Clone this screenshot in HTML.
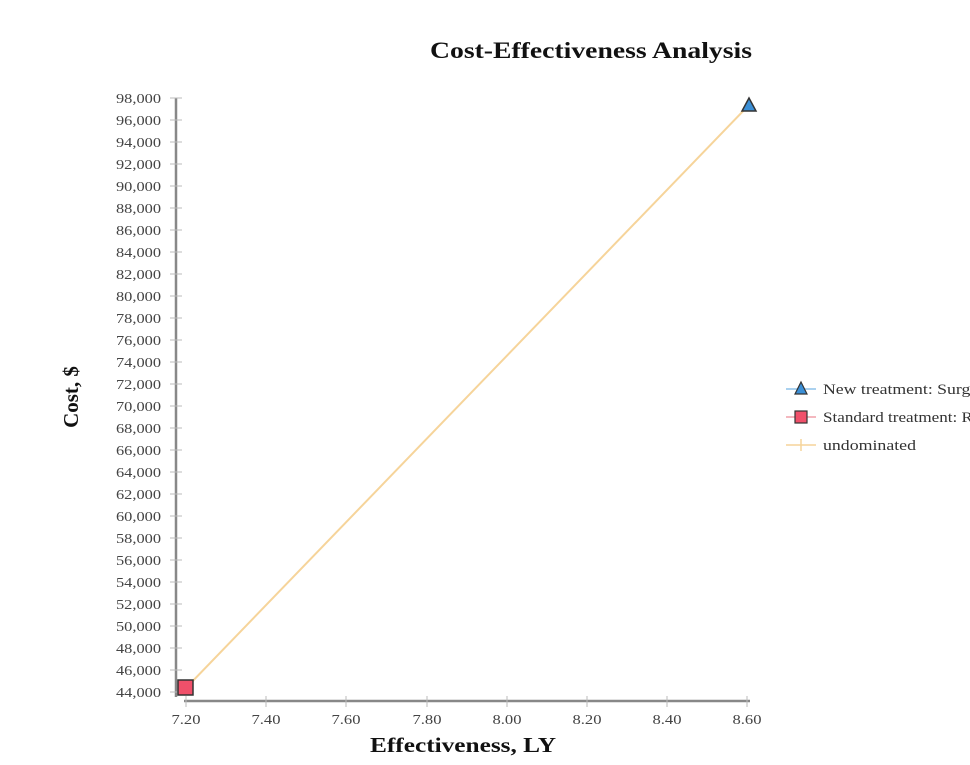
<!DOCTYPE html>
<html><head><meta charset="utf-8"><style>
html,body{margin:0;padding:0;background:#fff;}
svg{display:block;}
.t{font-family:"Liberation Serif",serif;font-size:14px;fill:#444;}
</style></head><body>
<svg width="970" height="765" viewBox="0 0 970 765" xmlns="http://www.w3.org/2000/svg">
<text x="591" y="58" text-anchor="middle" font-family="Liberation Serif,serif" font-weight="bold" font-size="23" fill="#111" textLength="322" lengthAdjust="spacingAndGlyphs">Cost-Effectiveness Analysis</text>
<text x="463" y="752" text-anchor="middle" font-family="Liberation Serif,serif" font-weight="bold" font-size="21" fill="#111" textLength="186" lengthAdjust="spacingAndGlyphs">Effectiveness, LY</text>
<text transform="translate(78,397) rotate(-90)" text-anchor="middle" font-family="Liberation Serif,serif" font-weight="bold" font-size="21" fill="#111">Cost, $</text>
<line x1="176" y1="98" x2="176" y2="697" stroke="#888" stroke-width="2.5"/>
<line x1="184" y1="701" x2="750" y2="701" stroke="#888" stroke-width="2.5"/>
<g stroke="#bbb" stroke-width="1">
<line x1="170" y1="98" x2="182" y2="98"/><line x1="170" y1="120" x2="182" y2="120"/><line x1="170" y1="142" x2="182" y2="142"/><line x1="170" y1="164" x2="182" y2="164"/><line x1="170" y1="186" x2="182" y2="186"/><line x1="170" y1="208" x2="182" y2="208"/><line x1="170" y1="230" x2="182" y2="230"/><line x1="170" y1="252" x2="182" y2="252"/><line x1="170" y1="274" x2="182" y2="274"/><line x1="170" y1="296" x2="182" y2="296"/><line x1="170" y1="318" x2="182" y2="318"/><line x1="170" y1="340" x2="182" y2="340"/><line x1="170" y1="362" x2="182" y2="362"/><line x1="170" y1="384" x2="182" y2="384"/><line x1="170" y1="406" x2="182" y2="406"/><line x1="170" y1="428" x2="182" y2="428"/><line x1="170" y1="450" x2="182" y2="450"/><line x1="170" y1="472" x2="182" y2="472"/><line x1="170" y1="494" x2="182" y2="494"/><line x1="170" y1="516" x2="182" y2="516"/><line x1="170" y1="538" x2="182" y2="538"/><line x1="170" y1="560" x2="182" y2="560"/><line x1="170" y1="582" x2="182" y2="582"/><line x1="170" y1="604" x2="182" y2="604"/><line x1="170" y1="626" x2="182" y2="626"/><line x1="170" y1="648" x2="182" y2="648"/><line x1="170" y1="670" x2="182" y2="670"/><line x1="170" y1="692" x2="182" y2="692"/>
<line x1="186" y1="696" x2="186" y2="707"/><line x1="266" y1="696" x2="266" y2="707"/><line x1="346" y1="696" x2="346" y2="707"/><line x1="427" y1="696" x2="427" y2="707"/><line x1="507" y1="696" x2="507" y2="707"/><line x1="587" y1="696" x2="587" y2="707"/><line x1="667" y1="696" x2="667" y2="707"/><line x1="747" y1="696" x2="747" y2="707"/>
</g>
<g class="t" text-anchor="end">
<text x="161" y="103" textLength="45" lengthAdjust="spacingAndGlyphs">98,000</text><text x="161" y="125" textLength="45" lengthAdjust="spacingAndGlyphs">96,000</text><text x="161" y="147" textLength="45" lengthAdjust="spacingAndGlyphs">94,000</text><text x="161" y="169" textLength="45" lengthAdjust="spacingAndGlyphs">92,000</text><text x="161" y="191" textLength="45" lengthAdjust="spacingAndGlyphs">90,000</text><text x="161" y="213" textLength="45" lengthAdjust="spacingAndGlyphs">88,000</text><text x="161" y="235" textLength="45" lengthAdjust="spacingAndGlyphs">86,000</text><text x="161" y="257" textLength="45" lengthAdjust="spacingAndGlyphs">84,000</text><text x="161" y="279" textLength="45" lengthAdjust="spacingAndGlyphs">82,000</text><text x="161" y="301" textLength="45" lengthAdjust="spacingAndGlyphs">80,000</text><text x="161" y="323" textLength="45" lengthAdjust="spacingAndGlyphs">78,000</text><text x="161" y="345" textLength="45" lengthAdjust="spacingAndGlyphs">76,000</text><text x="161" y="367" textLength="45" lengthAdjust="spacingAndGlyphs">74,000</text><text x="161" y="389" textLength="45" lengthAdjust="spacingAndGlyphs">72,000</text><text x="161" y="411" textLength="45" lengthAdjust="spacingAndGlyphs">70,000</text><text x="161" y="433" textLength="45" lengthAdjust="spacingAndGlyphs">68,000</text><text x="161" y="455" textLength="45" lengthAdjust="spacingAndGlyphs">66,000</text><text x="161" y="477" textLength="45" lengthAdjust="spacingAndGlyphs">64,000</text><text x="161" y="499" textLength="45" lengthAdjust="spacingAndGlyphs">62,000</text><text x="161" y="521" textLength="45" lengthAdjust="spacingAndGlyphs">60,000</text><text x="161" y="543" textLength="45" lengthAdjust="spacingAndGlyphs">58,000</text><text x="161" y="565" textLength="45" lengthAdjust="spacingAndGlyphs">56,000</text><text x="161" y="587" textLength="45" lengthAdjust="spacingAndGlyphs">54,000</text><text x="161" y="609" textLength="45" lengthAdjust="spacingAndGlyphs">52,000</text><text x="161" y="631" textLength="45" lengthAdjust="spacingAndGlyphs">50,000</text><text x="161" y="653" textLength="45" lengthAdjust="spacingAndGlyphs">48,000</text><text x="161" y="675" textLength="45" lengthAdjust="spacingAndGlyphs">46,000</text><text x="161" y="697" textLength="45" lengthAdjust="spacingAndGlyphs">44,000</text>
</g>
<g class="t" text-anchor="middle">
<text x="186" y="724" textLength="29" lengthAdjust="spacingAndGlyphs">7.20</text><text x="266" y="724" textLength="29" lengthAdjust="spacingAndGlyphs">7.40</text><text x="346" y="724" textLength="29" lengthAdjust="spacingAndGlyphs">7.60</text><text x="427" y="724" textLength="29" lengthAdjust="spacingAndGlyphs">7.80</text><text x="507" y="724" textLength="29" lengthAdjust="spacingAndGlyphs">8.00</text><text x="587" y="724" textLength="29" lengthAdjust="spacingAndGlyphs">8.20</text><text x="667" y="724" textLength="29" lengthAdjust="spacingAndGlyphs">8.40</text><text x="747" y="724" textLength="29" lengthAdjust="spacingAndGlyphs">8.60</text>
</g>
<line x1="186" y1="688" x2="748" y2="106" stroke="#f6d49a" stroke-width="2"/>
<rect x="178" y="680" width="15" height="15" fill="#f0506a" stroke="#333" stroke-width="1.5"/>
<polygon points="749,98 756,111 742,111" fill="#3b8fd6" stroke="#333" stroke-width="1.5"/>
<line x1="786" y1="389" x2="816" y2="389" stroke="#8ec2ea" stroke-width="1.5"/>
<polygon points="801,382 807,394 795,394" fill="#3b8fd6" stroke="#333" stroke-width="1.2"/>
<text x="823" y="394" style="font-family:'Liberation Serif',serif;font-size:15px;fill:#333" textLength="170" lengthAdjust="spacingAndGlyphs">New treatment: Surgery</text>
<line x1="786" y1="417" x2="816" y2="417" stroke="#f0a0aa" stroke-width="1.5"/>
<rect x="795" y="411" width="12" height="12" fill="#f0506a" stroke="#333" stroke-width="1.2"/>
<text x="823" y="422" style="font-family:'Liberation Serif',serif;font-size:15px;fill:#333" textLength="205" lengthAdjust="spacingAndGlyphs">Standard treatment: Radiation</text>
<line x1="786" y1="445" x2="816" y2="445" stroke="#f6d49a" stroke-width="1.5"/>
<line x1="801" y1="439" x2="801" y2="451" stroke="#f6d49a" stroke-width="1.5"/>
<text x="823" y="450" style="font-family:'Liberation Serif',serif;font-size:15px;fill:#333" textLength="93" lengthAdjust="spacingAndGlyphs">undominated</text>
</svg>
</body></html>
